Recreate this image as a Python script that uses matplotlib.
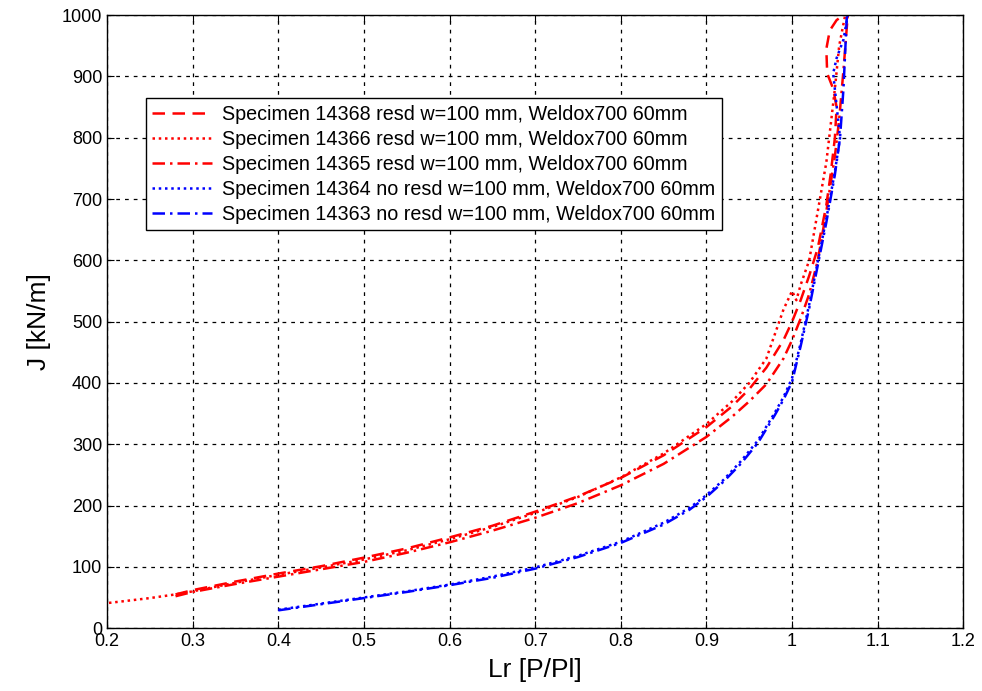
import numpy as np
import matplotlib
matplotlib.use("Agg")
from matplotlib import pyplot as plt

plt.rcParams['font.family'] = ['Liberation Sans', 'DejaVu Sans']

# J-integral vs. Lr for the five Weldox700 specimens
lr_14368 = [0.28, 0.30, 0.35, 0.40, 0.45, 0.50, 0.55, 0.60, 0.65, 0.70, 0.75, 0.80,
            0.85, 0.90, 0.93, 0.95, 0.97, 0.99, 1.00, 1.01, 1.02, 1.03, 1.04, 1.045,
            1.05, 1.052, 1.048, 1.041, 1.040, 1.044, 1.052, 1.060]
j_14368 = [55, 62, 76, 89, 101, 115, 130, 148, 167, 190, 215, 245,
           282, 328, 362, 390, 425, 470, 500, 535, 575, 620, 690, 740,
           800, 850, 880, 905, 945, 975, 992, 1000]

lr_14366 = [0.195, 0.22, 0.25, 0.28, 0.30, 0.35, 0.40, 0.45, 0.50, 0.55, 0.60, 0.65,
            0.70, 0.75, 0.80, 0.85, 0.90, 0.93, 0.95, 0.97, 0.99, 1.00, 1.005, 1.01,
            1.02, 1.03, 1.04, 1.045, 1.05, 1.055, 1.062]
j_14366 = [40, 44, 49, 55, 60, 74, 87, 99, 112, 127, 145, 165,
           188, 214, 246, 285, 333, 370, 400, 440, 520, 550, 535, 560,
           600, 680, 760, 820, 880, 950, 1000]

lr_14365 = [0.28, 0.30, 0.35, 0.40, 0.45, 0.50, 0.55, 0.60, 0.65, 0.70, 0.75, 0.80,
            0.85, 0.90, 0.93, 0.95, 0.97, 0.99, 1.00, 1.01, 1.02, 1.03, 1.04, 1.05,
            1.055, 1.06, 1.065]
j_14365 = [52, 59, 72, 84, 96, 108, 123, 140, 159, 180, 204, 233,
           268, 312, 345, 370, 398, 440, 470, 505, 545, 600, 680, 770,
           830, 910, 1000]

lr_14364 = [0.40, 0.45, 0.50, 0.55, 0.60, 0.65, 0.70, 0.75, 0.80, 0.85, 0.88, 0.90,
            0.92, 0.94, 0.96, 0.98, 0.99, 1.00, 1.01, 1.02, 1.03, 1.04, 1.05, 1.056,
            1.048, 1.052, 1.06, 1.065]
j_14364 = [30, 40, 50, 60, 71, 84, 99, 118, 141, 172, 196, 217,
           242, 272, 306, 352, 377, 408, 465, 528, 598, 668, 745, 800,
           905, 930, 960, 1000]

lr_14363 = [0.40, 0.45, 0.50, 0.55, 0.60, 0.65, 0.70, 0.75, 0.80, 0.85, 0.88, 0.90,
            0.92, 0.94, 0.96, 0.98, 0.99, 1.00, 1.01, 1.02, 1.03, 1.04, 1.05, 1.056,
            1.06, 1.064]
j_14363 = [29, 39, 49, 59, 70, 82, 97, 116, 139, 169, 193, 214,
           239, 268, 302, 348, 373, 402, 460, 522, 592, 662, 740, 800,
           880, 1000]

series = [
    (lr_14368, j_14368, 'r', (0, (5, 3)),
     'Specimen 14368 resd w=100 mm, Weldox700 60mm'),
    (lr_14366, j_14366, 'r', (0, (1, 1.5)),
     'Specimen 14366 resd w=100 mm, Weldox700 60mm'),
    (lr_14365, j_14365, 'r', (0, (5, 2, 1, 2)),
     'Specimen 14365 resd w=100 mm, Weldox700 60mm'),
    (lr_14364, j_14364, 'b', (0, (1, 1.5)),
     'Specimen 14364 no resd w=100 mm, Weldox700 60mm'),
    (lr_14363, j_14363, 'b', (0, (5, 2, 1, 2)),
     'Specimen 14363 no resd w=100 mm, Weldox700 60mm'),
]

fig = plt.figure(figsize=(9.82, 6.91), dpi=100)
ax = fig.add_axes([0.109, 0.091, 0.872, 0.887])

for x, y, c, ls, lab in series:
    ax.plot(x, y, color=c, linestyle=ls, linewidth=1.8, label=lab)

ax.set_xlim(0.2, 1.2)
ax.set_ylim(0, 1000)
ax.set_xticks(np.arange(0.2, 1.21, 0.1))
ax.set_xticklabels(['0.2', '0.3', '0.4', '0.5', '0.6', '0.7', '0.8', '0.9', '1', '1.1', '1.2'])
ax.set_yticks(np.arange(0, 1001, 100))
ax.grid(True, color='k', linestyle=(0, (3, 4)), linewidth=0.9)
ax.tick_params(direction='in', length=5, top=True, right=True, labelsize=13)
for s in ax.spines.values():
    s.set_linewidth(1.0)

ax.set_xlabel('Lr [P/Pl]', fontsize=19, labelpad=6)
ax.set_ylabel('J [kN/m]', fontsize=19, labelpad=8)

leg = ax.legend(loc='upper left', bbox_to_anchor=(0.045, 0.865), fontsize=14.2,
                frameon=True, fancybox=False, edgecolor='k', framealpha=1,
                handlelength=3.0, handletextpad=0.5, labelspacing=0.3,
                borderpad=0.35, borderaxespad=0)
leg.get_frame().set_linewidth(1.0)

fig.savefig('out.png', dpi=100)
